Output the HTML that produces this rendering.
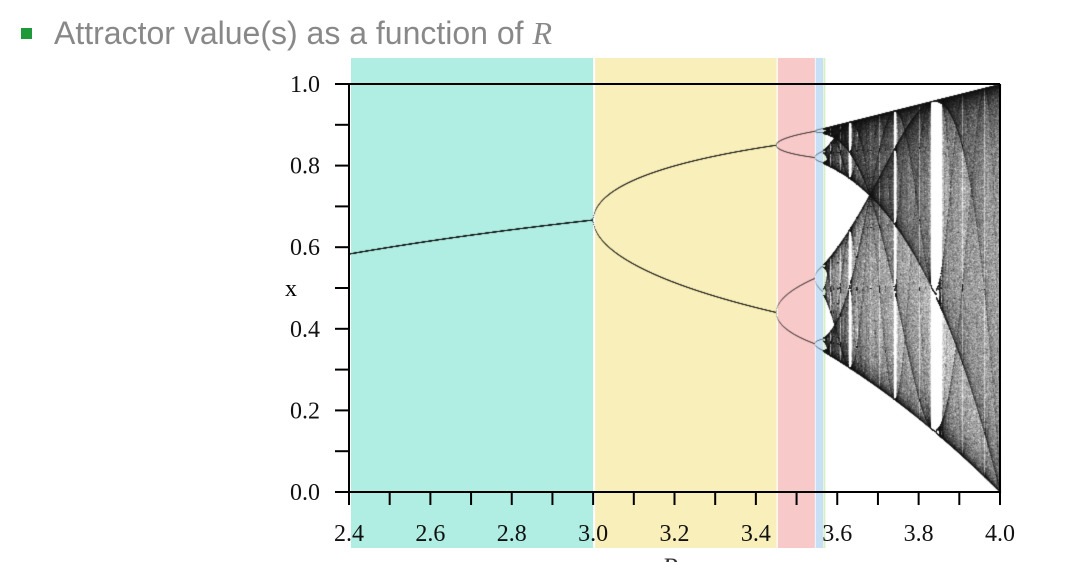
<!DOCTYPE html>
<html><head><meta charset="utf-8"><style>
body{margin:0;width:1075px;height:562px;background:#fff;overflow:hidden;position:relative;font-family:"Liberation Serif",serif}
#title{position:absolute;left:54px;top:15px;font-family:"Liberation Sans",sans-serif;font-size:32px;color:#888;font-weight:300}
#bullet{position:absolute;left:21px;top:28px;width:11px;height:11px;background:#1e9a3a}
</style></head><body>
<div id="bullet"></div>
<div id="title">Attractor value(s) as a function of <i style="font-family:'Liberation Serif',serif">R</i></div>
<svg id="chart" width="1075" height="562" style="position:absolute;left:0;top:0"></svg>
<canvas id="cv" width="1075" height="562" style="position:absolute;left:0;top:0"></canvas>
<svg id="axes" width="1075" height="562" style="position:absolute;left:0;top:0"></svg>
<script>
const xTicks=[2.4,2.6,2.8,3.0,3.2,3.4,3.6,3.8,4.0];
const yTicks=[0.0,0.2,0.4,0.6,0.8,1.0];
const bandStarts=[2.4,3.0,3.449,3.542,3.561];
const bandEnds=[2.995,3.446,3.540,3.560,3.566];
const bandColors=['#b0ede3','#f9efbb','#f7cac9','#c7e0f6','#d7f0c8'];
const rRange=[2.4,4.0];
const NS='http://www.w3.org/2000/svg';
const X=r=>349+(r-2.4)*(1000-349)/1.6;
const Y=v=>492-v*(492-84);
function mk(p,t,a,txt){const e=document.createElementNS(NS,t);for(const k in a)e.setAttribute(k,a[k]);if(txt!==undefined)e.textContent=txt;p.appendChild(e);return e;}
const s=document.getElementById('chart'),ax=document.getElementById('axes');
bandStarts.forEach((b,i)=>{const r=mk(s,'rect',{x:X(b)+2,y:58,width:X(bandEnds[i])-X(b),height:490,fill:bandColors[i]});

});
const c=document.getElementById('cv').getContext('2d');
for(let px=X(rRange[0]);px<=X(rRange[1]);px+=0.5){
 const r=rRange[0]+(px-349)*1.6/651;let x=0.5;
 for(let i=0;i<1000;i++)x=r*x*(1-x);
 if(r<3.565){c.fillStyle='rgba(0,0,0,0.18)';
  for(let i=0;i<32;i++){x=r*x*(1-x);c.fillRect(px,Y(x)-0.4,0.6,0.8);}
 } else {c.fillStyle='rgba(0,0,0,0.11)';
  for(let i=0;i<2500;i++){x=r*x*(1-x);c.fillRect(px,Y(x),0.8,0.8);}
 }
}
mk(ax,'line',{x1:349,y1:84,x2:1000,y2:84,stroke:'#000','stroke-width':2});
mk(ax,'line',{x1:1000,y1:84,x2:1000,y2:492,stroke:'#000','stroke-width':2});
mk(ax,'line',{x1:349,y1:84,x2:349,y2:492,stroke:'#000','stroke-width':2});
mk(ax,'line',{x1:335,y1:492,x2:1000,y2:492,stroke:'#000','stroke-width':2});
for(let i=0;i<=16;i++){const r=2.4+i*0.1;mk(ax,'line',{x1:X(r),y1:492,x2:X(r),y2:505,stroke:'#000','stroke-width':2});}
for(let i=0;i<=10;i++){const v=i*0.1;mk(ax,'line',{x1:335,y1:Y(v),x2:349,y2:Y(v),stroke:'#000','stroke-width':2});}
xTicks.forEach(t=>{const e=mk(ax,'text',{x:X(t),y:541,'text-anchor':'middle','font-size':24,'font-family':'Liberation Serif, serif',fill:'#111'},t.toFixed(1));

});
yTicks.forEach(t=>{const e=mk(ax,'text',{x:320,y:Y(t)+8,'text-anchor':'end','font-size':24,'font-family':'Liberation Serif, serif',fill:'#111'},t.toFixed(1));

});
const yl=mk(ax,'text',{x:291,y:296,'text-anchor':'middle','font-size':24,'font-family':'Liberation Serif, serif'},'x');


const xl=mk(ax,'text',{x:670,y:576,'text-anchor':'middle','font-size':26,'font-style':'italic','font-family':'Liberation Serif, serif',fill:'#333'},'R');


</script>
</body></html>
